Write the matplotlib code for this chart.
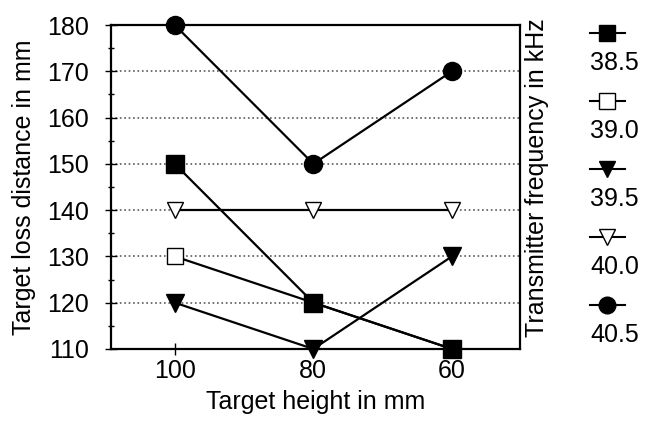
import matplotlib.pyplot as plt
from matplotlib.lines import Line2D

plt.rcParams['font.family'] = ['Liberation Sans', 'DejaVu Sans']

heights = ["100", "80", "60"]
freqs = ["38.5", "39.0", "39.5", "40.0", "40.5"]
loss_385 = [150, 120, 110]
loss_390 = [130, 120, 110]
loss_395 = [120, 110, 130]
loss_400 = [140, 140, 140]
loss_405 = [180, 150, 170]

series = [loss_385, loss_390, loss_395, loss_400, loss_405]
markers = ['s', 's', 'v', 'v', 'o']
faces = ['black', 'white', 'black', 'white', 'black']
sizes = [13, 12, 13, 12, 13]
zorders = [5, 3, 4, 3, 4]

fig = plt.figure(figsize=(6.49, 4.24), dpi=100)
ax = fig.add_axes([0.171, 0.177, 0.63, 0.764])

x = range(len(heights))
for vals, m, fc, ms, z in zip(series, markers, faces, sizes, zorders):
    ax.plot(x, vals, color='black', lw=1.6, marker=m, markersize=ms,
            markerfacecolor=fc, markeredgecolor='black', markeredgewidth=1,
            clip_on=False, zorder=z)

ax.set_xlim(-0.46, 2.49)
ax.set_ylim(110, 180)
ax.set_xticks(list(x))
ax.set_xticklabels(heights)
ax.set_yticks(range(110, 181, 10))
ax.set_yticks(range(115, 180, 10), minor=True)
ax.grid(axis='y', which='major', color='0.35', linestyle=':', lw=1.2, zorder=1)
ax.tick_params(axis='both', which='major', labelsize=18, direction='inout',
               length=8, width=1)
ax.tick_params(axis='y', which='minor', direction='inout', length=5, width=1)
ax.tick_params(axis='x', pad=3)
ax.tick_params(axis='y', pad=12)
for s in ax.spines.values():
    s.set_linewidth(1.6)

ax.set_xlabel("Target height in mm", fontsize=18, va='center')
ax.set_ylabel("Target loss distance in mm", fontsize=18, va='center')
ax.xaxis.set_label_coords(0.5, -0.164)
ax.yaxis.set_label_coords(-0.213, 0.5)
fig.text(0.828, 0.58, "Transmitter frequency in kHz", rotation=90,
         ha='center', va='center', fontsize=18)

# legend: handle above label
top = 1 - 33 / 424
step = 68 / 424
for i, (lab, m, fc) in enumerate(zip(freqs, markers, faces)):
    yh = top - i * step
    fig.add_artist(Line2D([0.909, 0.963], [yh, yh], color='black', lw=1.5,
                          transform=fig.transFigure))
    fig.add_artist(Line2D([0.936], [yh], color='black', marker=m,
                          markersize=12, markerfacecolor=fc,
                          markeredgecolor='black', transform=fig.transFigure))
    fig.text(0.909, yh - 30 / 424, lab, ha='left', va='center', fontsize=18)

fig.savefig("out.png", dpi=100)
